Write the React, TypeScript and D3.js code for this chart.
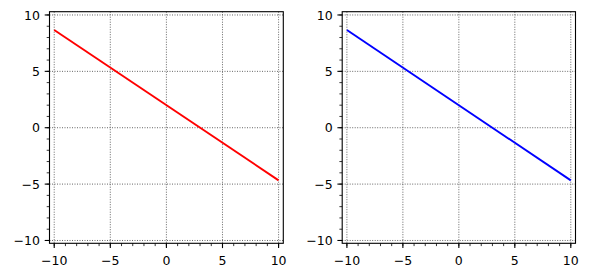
import React from "react";
import * as d3 from "d3";

const lineX = [-10, 10];
const lineY = [8.667, -4.667];
const colors = ["#ff0000", "#0000ff"];
const majorTicks = [-10, -5, 0, 5, 10];
const minorTicks = d3.range(-10, 11, 1);
const xDomain: [number, number] = [-10.42, 10.42];
const yDomain: [number, number] = [-10.25, 10.29];

const W = 589, H = 278;
const panels = [
  { left: 49.5, right: 283.3 },
  { left: 342.2, right: 575.5 },
];
const top = 11.7, bottom = 243.3;

function Panel({ left, right, color }: { left: number; right: number; color: string }) {
  const x = d3.scaleLinear().domain(xDomain).range([left, right]);
  const y = d3.scaleLinear().domain(yDomain).range([bottom, top]);
  const pts = lineX.map((v, i) => [v, lineY[i]] as [number, number]);
  const line = d3.line<[number, number]>().x((d) => x(d[0])).y((d) => y(d[1]));
  const font = "DejaVu Sans, sans-serif";
  const fs = 12.5;
  return (
    <g>
      {majorTicks.map((t) => (
        <line key={"gx" + t} x1={x(t)} x2={x(t)} y1={top} y2={bottom} stroke="#555" strokeWidth={0.9} strokeDasharray="1,1.5" />
      ))}
      {majorTicks.map((t) => (
        <line key={"gy" + t} x1={left} x2={right} y1={y(t)} y2={y(t)} stroke="#555" strokeWidth={0.9} strokeDasharray="1,1.5" />
      ))}
      <path d={line(pts) || ""} fill="none" stroke={color} strokeWidth={1.9} />
      <rect x={left} y={top} width={right - left} height={bottom - top} fill="none" stroke="#000" strokeWidth={1.1} />
      {minorTicks.map((t) => (
        <line key={"mx" + t} x1={x(t)} x2={x(t)} y1={bottom} y2={bottom + 2.8} stroke="#000" strokeWidth={0.8} />
      ))}
      {minorTicks.map((t) => (
        <line key={"my" + t} x1={left} x2={left - 2.8} y1={y(t)} y2={y(t)} stroke="#000" strokeWidth={0.8} />
      ))}
      {majorTicks.map((t) => (
        <g key={"tx" + t}>
          <line x1={x(t)} x2={x(t)} y1={bottom} y2={bottom + 4.8} stroke="#000" strokeWidth={1.1} />
          <text x={x(t)} y={265} textAnchor="middle" fontFamily={font} fontSize={fs} fill="#000">
            {t < 0 ? "\u2212" + Math.abs(t) : String(t)}
          </text>
        </g>
      ))}
      {majorTicks.map((t) => (
        <g key={"ty" + t}>
          <line x1={left} x2={left - 4.8} y1={y(t)} y2={y(t)} stroke="#000" strokeWidth={1.1} />
          <text x={left - 9.5} y={y(t) + 4.6} textAnchor="end" fontFamily={font} fontSize={fs} fill="#000">
            {t < 0 ? "\u2212" + Math.abs(t) : String(t)}
          </text>
        </g>
      ))}
    </g>
  );
}

export default function App() {
  return (
    <svg width={W} height={H} style={{ position: "absolute", left: 0, top: 0, background: "#fff" }}>
      <rect width={W} height={H} fill="#fff" />
      {panels.map((p, i) => (
        <Panel key={i} left={p.left} right={p.right} color={colors[i]} />
      ))}
    </svg>
  );
}
